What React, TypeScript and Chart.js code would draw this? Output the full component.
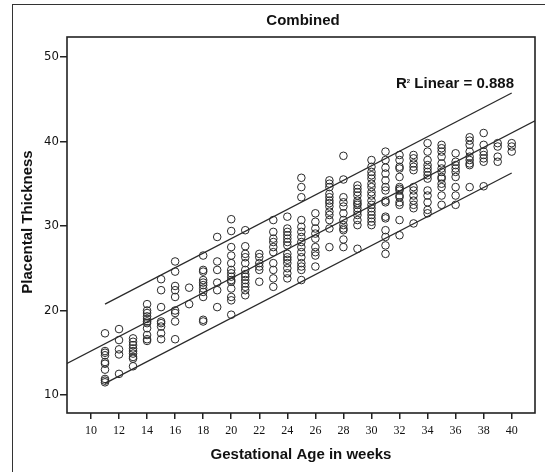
import React, { useEffect, useRef } from "react";
import { Chart, registerables } from "chart.js";

Chart.register(...registerables);

// ---- data ----
const weeks = [11, 12, 13, 14, 15, 16, 17, 18, 19, 20, 21, 22, 23, 24, 25, 26, 27, 28, 29, 30, 31, 32, 33, 34, 35, 36, 37, 38, 39, 40];
const thicknessByWeek = [
  [17.3, 15.2, 15.0, 14.7, 13.9, 13.7, 13.0, 11.9, 11.7, 11.5],
  [17.8, 16.5, 15.4, 14.8, 12.5],
  [16.7, 16.3, 15.9, 15.5, 15.2, 14.9, 14.5, 14.3, 13.4],
  [20.75, 20.0, 19.7, 19.3, 19.0, 18.7, 18.5, 17.9, 17.1, 16.6, 16.4],
  [23.7, 22.4, 20.4, 18.7, 18.5, 18.1, 17.3, 16.6],
  [25.8, 24.6, 22.9, 22.4, 21.6, 20.0, 19.7, 18.7, 16.6],
  [22.7, 20.75],
  [26.5, 24.8, 24.6, 23.6, 23.3, 23.0, 22.6, 22.2, 21.6, 18.9, 18.7],
  [28.7, 25.8, 24.8, 23.3, 22.4, 20.4],
  [30.8, 29.4, 27.5, 26.5, 25.6, 24.8, 24.4, 24.0, 23.6, 23.4, 22.6, 21.6, 21.2, 19.5],
  [29.5, 27.6, 26.7, 26.3, 25.6, 24.8, 24.3, 24.0, 23.6, 23.2, 22.8, 22.4, 21.8],
  [26.7, 26.3, 25.6, 25.2, 24.8, 23.4],
  [30.7, 29.3, 28.5, 28.1, 27.5, 26.9, 25.6, 24.8, 23.8, 22.8],
  [31.1, 29.7, 29.3, 28.9, 28.5, 28.1, 27.7, 26.7, 26.3, 26.0, 25.6, 25.0, 24.4, 23.8],
  [35.7, 34.6, 33.4, 30.7, 29.9, 29.3, 28.7, 28.1, 27.5, 26.9, 26.3, 25.6, 25.2, 24.8, 23.6],
  [31.5, 30.5, 29.7, 29.1, 28.5, 27.5, 26.9, 26.5, 25.2],
  [35.4, 35.0, 34.6, 33.8, 33.4, 33.0, 32.7, 32.3, 31.7, 31.3, 30.7, 29.7, 27.5],
  [38.3, 35.5, 33.4, 32.8, 32.3, 31.5, 30.7, 30.1, 29.7, 29.5, 28.4, 27.5],
  [34.8, 34.4, 34.0, 33.6, 33.0, 32.7, 32.5, 32.1, 31.7, 31.3, 30.7, 30.1, 27.3],
  [37.8, 37.0, 36.4, 36.0, 35.6, 35.0, 34.6, 34.0, 33.6, 33.0, 32.5, 32.1, 31.7, 31.3, 30.9, 30.5, 30.1],
  [38.8, 37.8, 36.9, 36.2, 35.4, 34.6, 34.2, 33.0, 32.8, 31.1, 30.9, 29.5, 28.7, 27.7, 26.7],
  [38.4, 37.8, 37.0, 36.8, 35.8, 34.6, 34.4, 34.2, 33.6, 33.4, 32.8, 32.5, 30.7, 28.9],
  [38.4, 38.0, 37.4, 37.0, 36.6, 34.6, 34.2, 33.6, 33.0, 32.5, 32.1, 30.3],
  [39.8, 38.8, 37.8, 37.2, 36.8, 36.4, 36.0, 35.6, 34.2, 33.6, 32.8, 31.9, 31.5],
  [39.6, 39.2, 38.8, 38.2, 37.4, 36.8, 36.4, 35.8, 35.6, 35.0, 34.6, 33.6, 32.5],
  [38.6, 37.6, 37.2, 36.8, 36.4, 35.8, 34.6, 33.6, 32.5],
  [40.5, 40.1, 39.6, 38.8, 38.2, 37.8, 37.4, 37.2, 34.6],
  [41.0, 39.6, 38.8, 38.4, 38.0, 37.6, 34.7],
  [39.8, 39.4, 38.2, 37.6],
  [39.8, 39.4, 38.8],
];

// regression fit line and 95% prediction band
const fitX = [8.29, 41.66];
const fitY = [13.74, 42.44];
const bandX = [11, 40];
const upperY = [20.75, 45.73];
const lowerY = [11.38, 36.27];

const xRange = [8.29, 41.66];
const yRange = [7.87, 52.36];
const xTicks = [10, 12, 14, 16, 18, 20, 22, 24, 26, 28, 30, 32, 34, 36, 38, 40];
const yTicks = [10, 20, 30, 40, 50];

const chartTitle = "Combined";
const xTitle = "Gestational Age in weeks";
const yTitle = "Placental Thickness";
const r2Text = " Linear = 0.888";

const W = 545;
const H = 472;

const decor = {
  id: "decor",
  beforeDraw(chart: any) {
    const ctx = chart.ctx;
    ctx.save();
    ctx.fillStyle = "#ffffff";
    ctx.fillRect(0, 0, chart.width, chart.height);
    ctx.strokeStyle = "#333333";
    ctx.lineWidth = 1;
    ctx.strokeRect(12.5, 4.5, 800, 800);
    ctx.restore();
  },
  afterDraw(chart: any) {
    const ctx = chart.ctx;
    const a = chart.chartArea;
    ctx.save();
    ctx.strokeStyle = "#222222";
    ctx.lineWidth = 1.6;
    ctx.strokeRect(a.left, a.top, a.right - a.left, a.bottom - a.top);

    ctx.fillStyle = "#111111";
    ctx.font = 'bold 15px "Liberation Sans", Arial, sans-serif';
    ctx.textAlign = "center";
    ctx.textBaseline = "middle";
    const cx = (a.left + a.right) / 2;
    ctx.fillText(chartTitle, cx + 2, 21);
    ctx.fillText(xTitle, cx, 455);

    ctx.save();
    ctx.translate(28, (a.top + a.bottom) / 2 - 3);
    ctx.rotate(-Math.PI / 2);
    ctx.fillText(yTitle, 0, 0);
    ctx.restore();

    // R² Linear label
    ctx.textAlign = "left";
    ctx.textBaseline = "alphabetic";
    const base = 88;
    ctx.font = 'bold 15px "Liberation Sans", Arial, sans-serif';
    const wR = ctx.measureText("R").width;
    const wMain = ctx.measureText(r2Text).width;
    ctx.font = 'bold 6px "Liberation Sans", Arial, sans-serif';
    const w2 = ctx.measureText("2").width;
    const x0 = 514 - (wR + w2 + wMain);
    ctx.font = 'bold 15px "Liberation Sans", Arial, sans-serif';
    ctx.fillText("R", x0, base);
    ctx.font = 'bold 6px "Liberation Sans", Arial, sans-serif';
    ctx.fillText("2", x0 + wR, base - 5);
    ctx.font = 'bold 15px "Liberation Sans", Arial, sans-serif';
    ctx.fillText(r2Text, x0 + wR + w2, base);
    ctx.restore();
  },
};

export default function App() {
  const ref = useRef<HTMLCanvasElement | null>(null);

  useEffect(() => {
    if (!ref.current) return;
    const points = weeks.flatMap((w, i) => thicknessByWeek[i].map((v) => ({ x: w, y: v })));
    const lineStyle = {
      showLine: true,
      pointRadius: 0,
      borderColor: "#2a2a2a",
      borderWidth: 1.3,
      backgroundColor: "transparent",
      fill: false,
    };
    const chart = new Chart(ref.current, {
      type: "scatter",
      data: {
        datasets: [
          {
            data: points,
            pointRadius: 3.8,
            pointBorderWidth: 1,
            borderColor: "#2a2a2a",
            backgroundColor: "rgba(0,0,0,0)",
            pointStyle: "circle",
          },
          { ...lineStyle, data: fitX.map((x, i) => ({ x, y: fitY[i] })) },
          { ...lineStyle, data: bandX.map((x, i) => ({ x, y: upperY[i] })) },
          { ...lineStyle, data: bandX.map((x, i) => ({ x, y: lowerY[i] })) },
        ] as any,
      },
      plugins: [decor],
      options: {
        animation: false,
        responsive: false,
        devicePixelRatio: 1,
        events: [],
        layout: { padding: { top: 37, right: 10, left: 0, bottom: 0 } },
        plugins: {
          legend: { display: false },
          title: { display: false },
          tooltip: { enabled: false },
        },
        scales: {
          x: {
            type: "linear",
            min: xRange[0],
            max: xRange[1],
            afterBuildTicks: (s: any) => {
              s.ticks = xTicks.map((v) => ({ value: v }));
            },
            afterFit: (s: any) => {
              s.height = 59;
            },
            grid: {
              drawOnChartArea: false,
              drawTicks: true,
              tickLength: 6,
              color: "#222222",
              lineWidth: 1.5,
            },
            border: { display: false },
            ticks: {
              autoSkip: false,
              maxRotation: 0,
              padding: 5,
              color: "#111111",
              font: { family: '"Liberation Serif", "Times New Roman", serif', size: 12 },
            },
          },
          y: {
            type: "linear",
            min: yRange[0],
            max: yRange[1],
            afterBuildTicks: (s: any) => {
              s.ticks = yTicks.map((v) => ({ value: v }));
            },
            afterFit: (s: any) => {
              s.width = 67;
            },
            grid: {
              drawOnChartArea: false,
              drawTicks: true,
              tickLength: 7,
              color: "#222222",
              lineWidth: 1.5,
            },
            border: { display: false },
            ticks: {
              padding: 1,
              color: "#111111",
              font: { family: '"Liberation Sans Narrow", "DejaVu Sans Condensed", "Liberation Sans", sans-serif', size: 13 },
            },
          },
        },
      } as any,
    });
    return () => chart.destroy();
  }, []);

  return (
    <div style={{ position: "absolute", left: 0, top: 0, width: W, height: H, background: "#fff" }}>
      <canvas ref={ref} width={W} height={H} style={{ display: "block", width: W, height: H }} />
    </div>
  );
}
